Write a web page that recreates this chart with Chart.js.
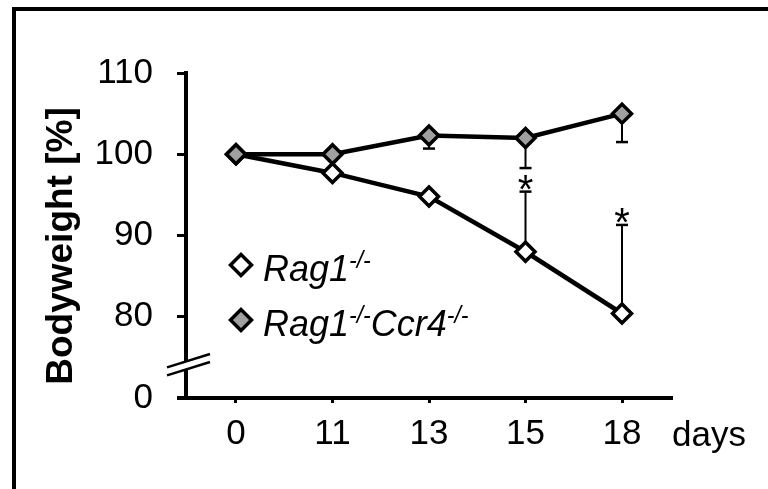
<!DOCTYPE html>
<html><head><meta charset="utf-8">
<script src="https://cdn.jsdelivr.net/npm/chart.js@4/dist/chart.umd.min.js"></script>
<style>html,body{margin:0;padding:0;background:#fff}#wrap{position:relative;width:768px;height:489px}</style>
</head><body><div id="wrap"><canvas id="c"></canvas></div>
<script>
// ---- data ----
const days = ['0', '11', '13', '15', '18'];
const rag1 = [100, 97.7, 94.8, 88.0, 80.4];              // Rag1-/- (white diamonds)
const rag1Ccr4 = [100, 100, 102.3, 102.0, 105.0];        // Rag1-/-Ccr4-/- (grey diamonds)
const rag1ErrUp = [0, 0, 0, 7.4, 10.9];                  // upward error bars, Rag1-/-
const rag1Ccr4ErrDown = [0, 0, 1.6, 3.7, 3.5];           // downward error bars, Rag1-/-Ccr4-/-
const significant = [false, false, false, true, true];   // asterisks
const yTickValues = [70, 80, 90, 100, 110];              // broken axis: bottom tick stands for 0
const yTickLabels = ['0', '80', '90', '100', '110'];
const yBreakValue = 74;

const FONT = "'Liberation Sans', Arial, sans-serif";
const GREY = '#a0a0a0';

function diamond(ctx, x, y, r, fill) {
  ctx.save();
  ctx.beginPath();
  ctx.moveTo(x, y - r); ctx.lineTo(x + r, y); ctx.lineTo(x, y + r); ctx.lineTo(x - r, y); ctx.closePath();
  ctx.fillStyle = fill; ctx.fill();
  ctx.lineWidth = 3.5; ctx.strokeStyle = '#000'; ctx.lineJoin = 'miter'; ctx.stroke();
  ctx.restore();
}

function richText(ctx, x, baseline, parts) {
  for (const p of parts) {
    ctx.font = 'italic ' + (p.sup ? '23px ' : '36px ') + FONT;
    const yy = p.sup ? baseline - 13 : baseline;
    ctx.fillText(p.t, x, yy);
    x += ctx.measureText(p.t).width;
  }
}

const extras = {
  id: 'extras',
  beforeDatasetsDraw(chart) {
    const ctx = chart.ctx, xs = chart.scales.x, ys = chart.scales.y;
    ctx.save();
    ctx.strokeStyle = '#000';
    const bars = [[rag1, rag1ErrUp, 1], [rag1Ccr4, rag1Ccr4ErrDown, -1]];
    for (const [vals, errs, dir] of bars) {
      vals.forEach((v, i) => {
        if (!errs[i]) return;
        const x = xs.getPixelForValue(i);
        const y0 = ys.getPixelForValue(v);
        const y1 = ys.getPixelForValue(v + dir * errs[i]);
        ctx.lineWidth = 2;
        ctx.beginPath(); ctx.moveTo(x, y0); ctx.lineTo(x, y1); ctx.stroke();
        ctx.lineWidth = 2.5;
        ctx.beginPath(); ctx.moveTo(x - 6, y1); ctx.lineTo(x + 6, y1); ctx.stroke();
      });
    }
    ctx.restore();
  },
  afterDraw(chart) {
    const ctx = chart.ctx, xs = chart.scales.x, ys = chart.scales.y, ca = chart.chartArea;
    ctx.save();
    // outer frame (top and left edges)
    ctx.fillStyle = '#000';
    ctx.fillRect(12, 7, 760, 4);
    ctx.fillRect(12, 7, 4, 490);
    // x-axis extends past the y-axis
    ctx.fillRect(ca.left - 9, ys.getPixelForValue(70) - 2, 10, 4);
    // axis break
    const bx = ca.left, by = ys.getPixelForValue(yBreakValue);
    const dxL = -19, dxR = 24, sl = -0.31, off = 4;
    ctx.fillStyle = '#fff';
    ctx.beginPath();
    ctx.moveTo(bx + dxL, by + dxL * sl - off);
    ctx.lineTo(bx + dxR, by + dxR * sl - off);
    ctx.lineTo(bx + dxR, by + dxR * sl + off);
    ctx.lineTo(bx + dxL, by + dxL * sl + off);
    ctx.closePath(); ctx.fill();
    ctx.strokeStyle = '#000'; ctx.lineWidth = 2.5;
    for (const o of [-off, off]) {
      ctx.beginPath();
      ctx.moveTo(bx + dxL, by + dxL * sl + o);
      ctx.lineTo(bx + dxR, by + dxR * sl + o);
      ctx.stroke();
    }
    // asterisks
    ctx.fillStyle = '#000';
    ctx.font = '40px ' + FONT; ctx.textAlign = 'center'; ctx.textBaseline = 'alphabetic';
    significant.forEach((s, i) => {
      if (!s) return;
      const x = xs.getPixelForValue(i);
      const capY = ys.getPixelForValue(rag1[i] + rag1ErrUp[i]);
      ctx.fillText('*', x, capY - 12 + 23);
    });
    // x unit
    ctx.textAlign = 'left';
    ctx.font = '35px ' + FONT;
    ctx.fillText('days', 672, 446);
    // y title
    ctx.save();
    ctx.translate(62, 246); ctx.rotate(-Math.PI / 2);
    ctx.font = 'bold 37px ' + FONT; ctx.textAlign = 'center'; ctx.textBaseline = 'middle';
    ctx.fillText('Bodyweight [%]', 0, 0);
    ctx.restore();
    // legend
    ctx.textAlign = 'left';
    diamond(ctx, 241, 265, 10.5, '#fff');
    richText(ctx, 263, 281, [{t: 'Rag1'}, {t: '-/-', sup: true}]);
    diamond(ctx, 241, 320, 10.5, GREY);
    richText(ctx, 263, 336, [{t: 'Rag1'}, {t: '-/-', sup: true}, {t: 'Ccr4'}, {t: '-/-', sup: true}]);
    ctx.restore();
  }
};

const pts = arr => arr.map((v, i) => ({x: i, y: v}));
const common = {borderColor: '#000', borderWidth: 4.5, pointStyle: 'rectRot', pointRadius: 9.5,
  pointBorderWidth: 3.5, pointBorderColor: '#000', tension: 0, fill: false};

new Chart(document.getElementById('c'), {
  type: 'line',
  data: {
    datasets: [
      Object.assign({label: 'Rag1-/-Ccr4-/-', data: pts(rag1Ccr4), pointBackgroundColor: GREY, order: 0}, common),
      Object.assign({label: 'Rag1-/-', data: pts(rag1), pointBackgroundColor: '#fff', order: 1}, common)
    ]
  },
  options: {
    responsive: true, maintainAspectRatio: false, animation: false,
    layout: {padding: {left: 16, top: 73, right: 96, bottom: 0}},
    plugins: {legend: {display: false}, tooltip: {enabled: false}},
    scales: {
      x: {
        type: 'linear', min: -0.518, max: 4.518,
        afterBuildTicks: s => { s.ticks = days.map((d, i) => ({value: i})); },
        afterFit: s => { s.height = 91; },
        ticks: {callback: (v, i) => days[i], font: {family: FONT, size: 35}, color: '#000',
          padding: 10, maxRotation: 0, autoSkip: false},
        grid: {display: true, drawOnChartArea: false, drawTicks: true, tickLength: 5, tickWidth: 3,
          tickColor: '#000', color: '#000'},
        border: {display: true, color: '#000', width: 4}
      },
      y: {
        min: 70, max: 110,
        afterBuildTicks: s => { s.ticks = yTickValues.map(v => ({value: v})); },
        afterFit: s => { s.width = 170; },
        ticks: {callback: (v, i) => yTickLabels[i], font: {family: FONT, size: 35}, color: '#000',
          padding: 24, autoSkip: false},
        grid: {display: true, drawOnChartArea: false, drawTicks: true, tickLength: 9, tickWidth: 3,
          tickColor: '#000', color: '#000'},
        border: {display: true, color: '#000', width: 4}
      }
    }
  },
  plugins: [extras]
});
</script>
</body></html>
